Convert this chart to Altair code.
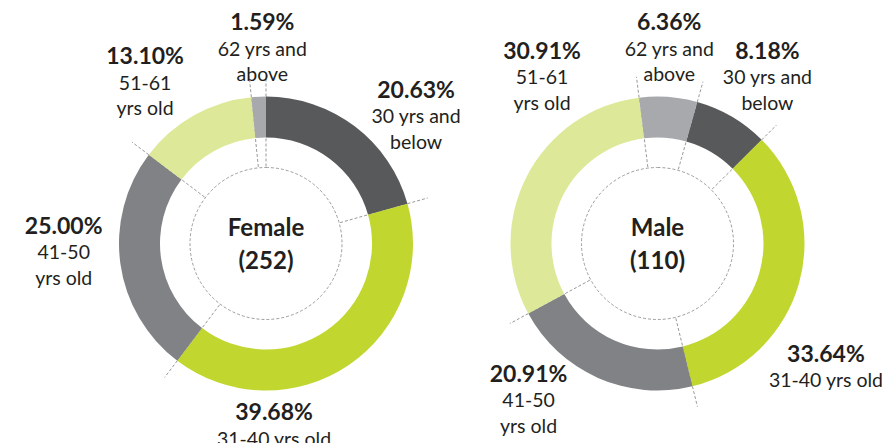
import math
import altair as alt
import pandas as pd

# ---- data ----
ages = ["30 yrs and below", "31-40 yrs old", "41-50 yrs old", "51-61 yrs old", "62 yrs and above"]
label_line1 = ["30 yrs and", "31-40 yrs old", "41-50", "51-61", "62 yrs and"]
label_line2 = ["below", "", "yrs old", "yrs old", "above"]
female_pct = [20.63, 39.68, 25.00, 13.10, 1.59]
male_pct = [8.18, 33.64, 20.91, 30.91, 6.36]
genders = ["Female", "Male"]
totals = [252, 110]

# ---- style / layout ----
colors = ["#58595b", "#c1d72f", "#808285", "#dde998", "#a7a9ac"]
FONT = "Lato"
TXT = "#231f20"
W, H = 874, 440
centers = {"Female": (258.0, 235.5), "Male": (649.5, 235.5)}
start_deg = {"Female": 0.0, "Male": 15.7}
R_OUT, R_IN, R_DASH = 147, 106, 76
LEAD_IN, LEAD_OUT = 77, 168
# label placement: (angle nudge from slice midpoint in degrees, radius px)
label_place = {
    "Female": [(7.4, 214), (31.6, 170), (12.6, 203), (-3.7, 222), (1.9, 220.5)],
    "Male": [(-0.6, 221), (17.8, 202), (20.6, 184), (31.8, 224), (-1.2, 220.5)],
}

series = {"Female": female_pct, "Male": male_pct}

layers = []
for g, tot in zip(genders, totals):
    vals = series[g]
    cx, cy = centers[g]
    a0 = start_deg[g]
    df = pd.DataFrame({
        "age": ages, "pct": vals, "idx": list(range(len(ages))),
        "pct_txt": [f"{v:.2f}%" for v in vals],
        "cat_txt": [a if not b else a + "\n" + b for a, b in zip(label_line1, label_line2)],
    })
    cum = [0.0]
    for v in vals:
        cum.append(cum[-1] + v)
    total = cum[-1]
    # leader lines at slice boundaries
    bnd = [a0 + c / total * 360.0 for c in cum[:-1]]
    lines = pd.DataFrame({
        "x1": [cx + LEAD_IN * math.sin(math.radians(b)) for b in bnd],
        "y1": [cy - LEAD_IN * math.cos(math.radians(b)) for b in bnd],
        "x2": [cx + LEAD_OUT * math.sin(math.radians(b)) for b in bnd],
        "y2": [cy - LEAD_OUT * math.cos(math.radians(b)) for b in bnd],
    })
    # label anchors
    mids = [a0 + (cum[i] + vals[i] / 2) / total * 360.0 for i in range(len(vals))]
    lx, ly = [], []
    for m, (nd, r) in zip(mids, label_place[g]):
        ang = math.radians(m + nd)
        lx.append(cx + r * math.sin(ang))
        ly.append(cy - r * math.cos(ang))
    df["lx"] = lx
    df["ly"] = ly

    layers.append(
        alt.Chart(lines).mark_rule(color="#7d7d7d", strokeWidth=0.8, strokeDash=[3, 2]).encode(
            x=alt.X("x1:Q", scale=None), y=alt.Y("y1:Q", scale=None), x2="x2:Q", y2="y2:Q"
        )
    )
    start = math.radians(a0)
    layers.append(
        alt.Chart(df).mark_arc(innerRadius=R_IN, outerRadius=R_OUT).encode(
            theta=alt.Theta("pct:Q", stack=True,
                            scale=alt.Scale(domain=[0, total], range=[start, start + 2 * math.pi])),
            color=alt.Color("age:N", scale=alt.Scale(domain=ages, range=colors), legend=None),
            order=alt.Order("idx:Q"),
            x=alt.value(cx), y=alt.value(cy),
        )
    )
    layers.append(
        alt.Chart(pd.DataFrame({"g": [g]})).mark_arc(
            theta=0, theta2=2 * math.pi, radius=R_DASH, filled=False,
            stroke="#858585", strokeWidth=0.8, strokeDash=[3, 2]
        ).encode(x=alt.value(cx), y=alt.value(cy))
    )
    center_df = pd.DataFrame({"name": [g], "count": [f"({tot})"]})
    layers.append(
        alt.Chart(center_df).mark_text(font=FONT, fontSize=24, fontWeight="bold", color=TXT,
                                       baseline="middle", dy=-14.5).encode(
            x=alt.value(cx), y=alt.value(cy), text="name:N")
    )
    layers.append(
        alt.Chart(center_df).mark_text(font=FONT, fontSize=24, fontWeight="bold", color=TXT,
                                       baseline="middle", dy=18).encode(
            x=alt.value(cx), y=alt.value(cy), text="count:N")
    )
    layers.append(
        alt.Chart(df).mark_text(font=FONT, fontSize=23, fontWeight="bold", color=TXT,
                                baseline="middle").encode(
            x=alt.X("lx:Q", scale=None), y=alt.Y("ly:Q", scale=None), text="pct_txt:N")
    )
    layers.append(
        alt.Chart(df).mark_text(font=FONT, fontSize=19.5, color=TXT, baseline="top",
                                lineBreak="\n", lineHeight=25.5, dy=17.5).encode(
            x=alt.X("lx:Q", scale=None), y=alt.Y("ly:Q", scale=None), text="cat_txt:N")
    )

chart = alt.layer(*layers).resolve_scale(theta="independent").properties(
    width=W, height=H, autosize=alt.AutoSizeParams(type="none"), padding=0
).configure_view(stroke=None)

chart.save("out.html", embed_options={"renderer": "svg", "actions": False})
